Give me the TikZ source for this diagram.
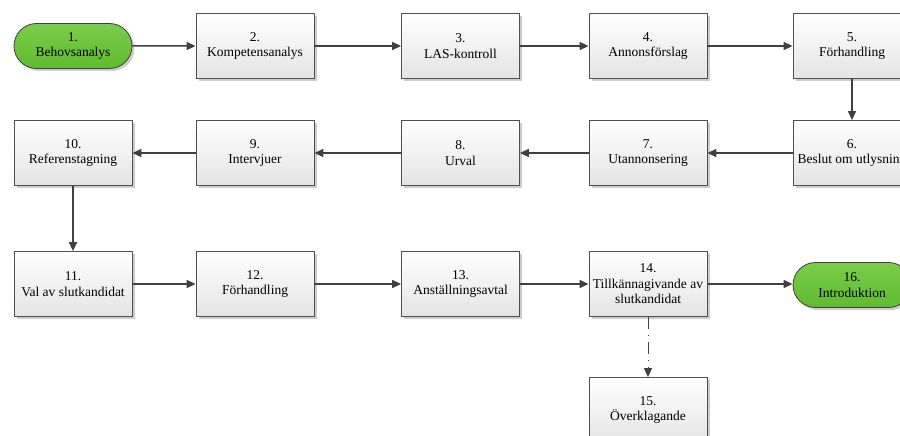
\documentclass[tikz,border=0pt]{standalone}
\usepackage{fontspec}
\setmainfont{Liberation Serif}
\usetikzlibrary{shadows,arrows.meta,shapes.misc}
\definecolor{edgecol}{HTML}{404040}
\definecolor{boxborder}{HTML}{505050}
\definecolor{boxbot}{HTML}{E4E4E4}
\definecolor{greentop}{HTML}{7ACD4A}
\definecolor{greenbot}{HTML}{5FBB30}
\begin{document}
\begin{tikzpicture}[x=1pt,y=-1pt,
  lbl/.style={align=center, font=\fontsize{13.5}{15.5}\selectfont, inner sep=0pt},
  box/.style={lbl, rectangle, draw=boxborder, line width=0.8pt, minimum width=118pt, minimum height=65pt,
    top color=white, bottom color=boxbot,
    drop shadow={shadow xshift=2.5pt, shadow yshift=-2.5pt, opacity=0.2, fill=black}},
  term/.style={lbl, rounded rectangle, draw=edgecol, line width=0.8pt, minimum width=118pt, minimum height=45pt,
    top color=greentop, bottom color=greenbot,
    drop shadow={shadow xshift=2.5pt, shadow yshift=-2.5pt, opacity=0.2, fill=black}},
  flow/.style={draw=edgecol, line width=1.5pt, -{Triangle[length=9pt,width=8pt]}},
  dashflow/.style={flow, line width=1pt, dash pattern=on 12pt off 6pt on 1pt off 6pt}
]
\useasboundingbox (0,0) rectangle (900,436);
\fill[white] (0,0) rectangle (900,436);
\node[term] (n1) at (73,46) {1.\\Behovsanalys};
\node[box] (n2) at (255,46) {2.\\Kompetensanalys};
\node[box] (n3) at (460.5,46) {3.\\LAS-kontroll};
\node[box] (n4) at (648,46) {4.\\Annonsförslag};
\node[box] (n5) at (852,46) {5.\\Förhandling};
\node[box] (n6) at (852,153) {6.\\Beslut om utlysning};
\node[box] (n7) at (648,153) {7.\\Utannonsering};
\node[box] (n8) at (460.5,153) {8.\\Urval};
\node[box] (n9) at (255,153) {9.\\Intervjuer};
\node[box] (n10) at (73,153) {10.\\Referenstagning};
\node[box] (n11) at (73,284) {11.\\Val av slutkandidat};
\node[box] (n12) at (255,284) {12.\\Förhandling};
\node[box] (n13) at (460.5,284) {13.\\Anställningsavtal};
\node[box] (n14) at (648,284) {14.\\Tillkännagivande av\\slutkandidat};
\node[box] (n15) at (648,410) {15.\\Överklagande};
\node[term] (n16) at (852,285) {16.\\Introduktion};
\draw[flow] (n1) -- (n2);
\draw[flow] (n2) -- (n3);
\draw[flow] (n3) -- (n4);
\draw[flow] (n4) -- (n5);
\draw[flow] (n5) -- (n6);
\draw[flow] (n6) -- (n7);
\draw[flow] (n7) -- (n8);
\draw[flow] (n8) -- (n9);
\draw[flow] (n9) -- (n10);
\draw[flow] (n10) -- (n11);
\draw[flow] (n11) -- (n12);
\draw[flow] (n12) -- (n13);
\draw[flow] (n13) -- (n14);
\draw[flow] (n14.east) -- (n16.west |- n14.east);
\draw[dashflow] (n14) -- (n15);
\end{tikzpicture}
\end{document}
